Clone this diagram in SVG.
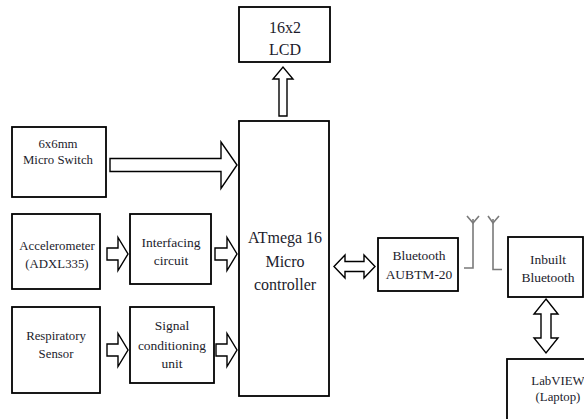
<svg xmlns="http://www.w3.org/2000/svg" width="584" height="419" viewBox="0 0 584 419">
<style>
.box{fill:#fff;stroke:#000;stroke-width:1.8}
.arr{fill:#fff;stroke:#000;stroke-width:1.4;stroke-linejoin:miter}
.ant{fill:none;stroke:#7a7a7a;stroke-width:1.6}
text{font-family:'Liberation Serif','Times New Roman',serif;fill:#1c1c2c;text-anchor:middle}
.s{font-size:12.8px}
.m{font-size:13.5px}
.l{font-size:16px}
</style>
<rect width="584" height="419" fill="#fff"/>
<g id="lcd"><rect class="box" x="239" y="7" width="91" height="55"/><text class="l" x="285" y="33">16x2</text><text class="l" x="285" y="55">LCD</text></g>
<g id="switch"><rect class="box" x="12" y="127" width="94" height="70"/><text class="s" x="58" y="148">6x6mm</text><text class="s" x="58" y="164">Micro Switch</text></g>
<g id="accel"><rect class="box" x="12" y="214" width="88" height="75"/><text class="s" x="57" y="250">Accelerometer</text><text class="s" x="57" y="268">(ADXL335)</text></g>
<g id="interfacing"><rect class="box" x="130" y="214" width="81" height="70"/><text class="m" x="171" y="247">Interfacing</text><text class="m" x="171" y="265">circuit</text></g>
<g id="resp"><rect class="box" x="12" y="307" width="88" height="86"/><text class="s" x="56" y="340">Respiratory</text><text class="s" x="56" y="358">Sensor</text></g>
<g id="signal"><rect class="box" x="130" y="307" width="84" height="76"/><text class="m" x="172" y="330">Signal</text><text class="m" x="172" y="350">conditioning</text><text class="m" x="172" y="368">unit</text></g>
<g id="mcu"><rect class="box" x="239" y="121" width="90" height="275"/><text class="l" x="285" y="243">ATmega 16</text><text class="l" x="285" y="267">Micro</text><text class="l" x="285" y="290">controller</text></g>
<g id="bt"><rect class="box" x="378" y="238" width="80" height="53"/><text class="m" x="419" y="260">Bluetooth</text><text class="m" x="419" y="279">AUBTM-20</text></g>
<g id="inbuilt"><rect class="box" x="508" y="237" width="75" height="60"/><text class="m" x="548" y="264">Inbuilt</text><text class="m" x="548" y="282">Bluetooth</text></g>
<g id="labview"><rect class="box" x="507" y="359" width="95" height="75"/><text class="s" x="558" y="385">LabVIEW</text><text class="s" x="558" y="401">(Laptop)</text></g>
<g id="antennas">
<polyline class="ant" points="464,268 473,268 473,219"/><polyline class="ant" points="467,216 473,223 479,216"/>
<polyline class="ant" points="502,269.5 493,269.5 493,219"/><polyline class="ant" points="488,216 493,223 499,216"/>
</g>
<g id="connectors">
<polygon class="arr" points="279,116 279,79 273,79 283,67 293,79 287,79 287,116"/>
<polygon class="arr" points="110,158.5 221,158.5 221,142 237,165 221,188.5 221,171.5 110,171.5"/>
<polygon class="arr" points="107,248 118,248 118,237.5 128,254 118,270.5 118,260 107,260"/>
<polygon class="arr" points="215,248 227,248 227,237.5 237,254 227,270.5 227,260 215,260"/>
<polygon class="arr" points="107,344 118,344 118,333.5 128,350 118,366.5 118,356 107,356"/>
<polygon class="arr" points="216,344 227,344 227,333.5 237,350 227,366.5 227,356 216,356"/>
<polygon class="arr" points="334,266.5 345,255 345,261.5 364,261.5 364,255 375,266.5 364,278 364,271.5 345,271.5 345,278"/>
<polygon class="arr" points="546,299 558,314 551,314 551,338 558,338 546,353 534,338 541,338 541,314 534,314"/>
</g>
</svg>
